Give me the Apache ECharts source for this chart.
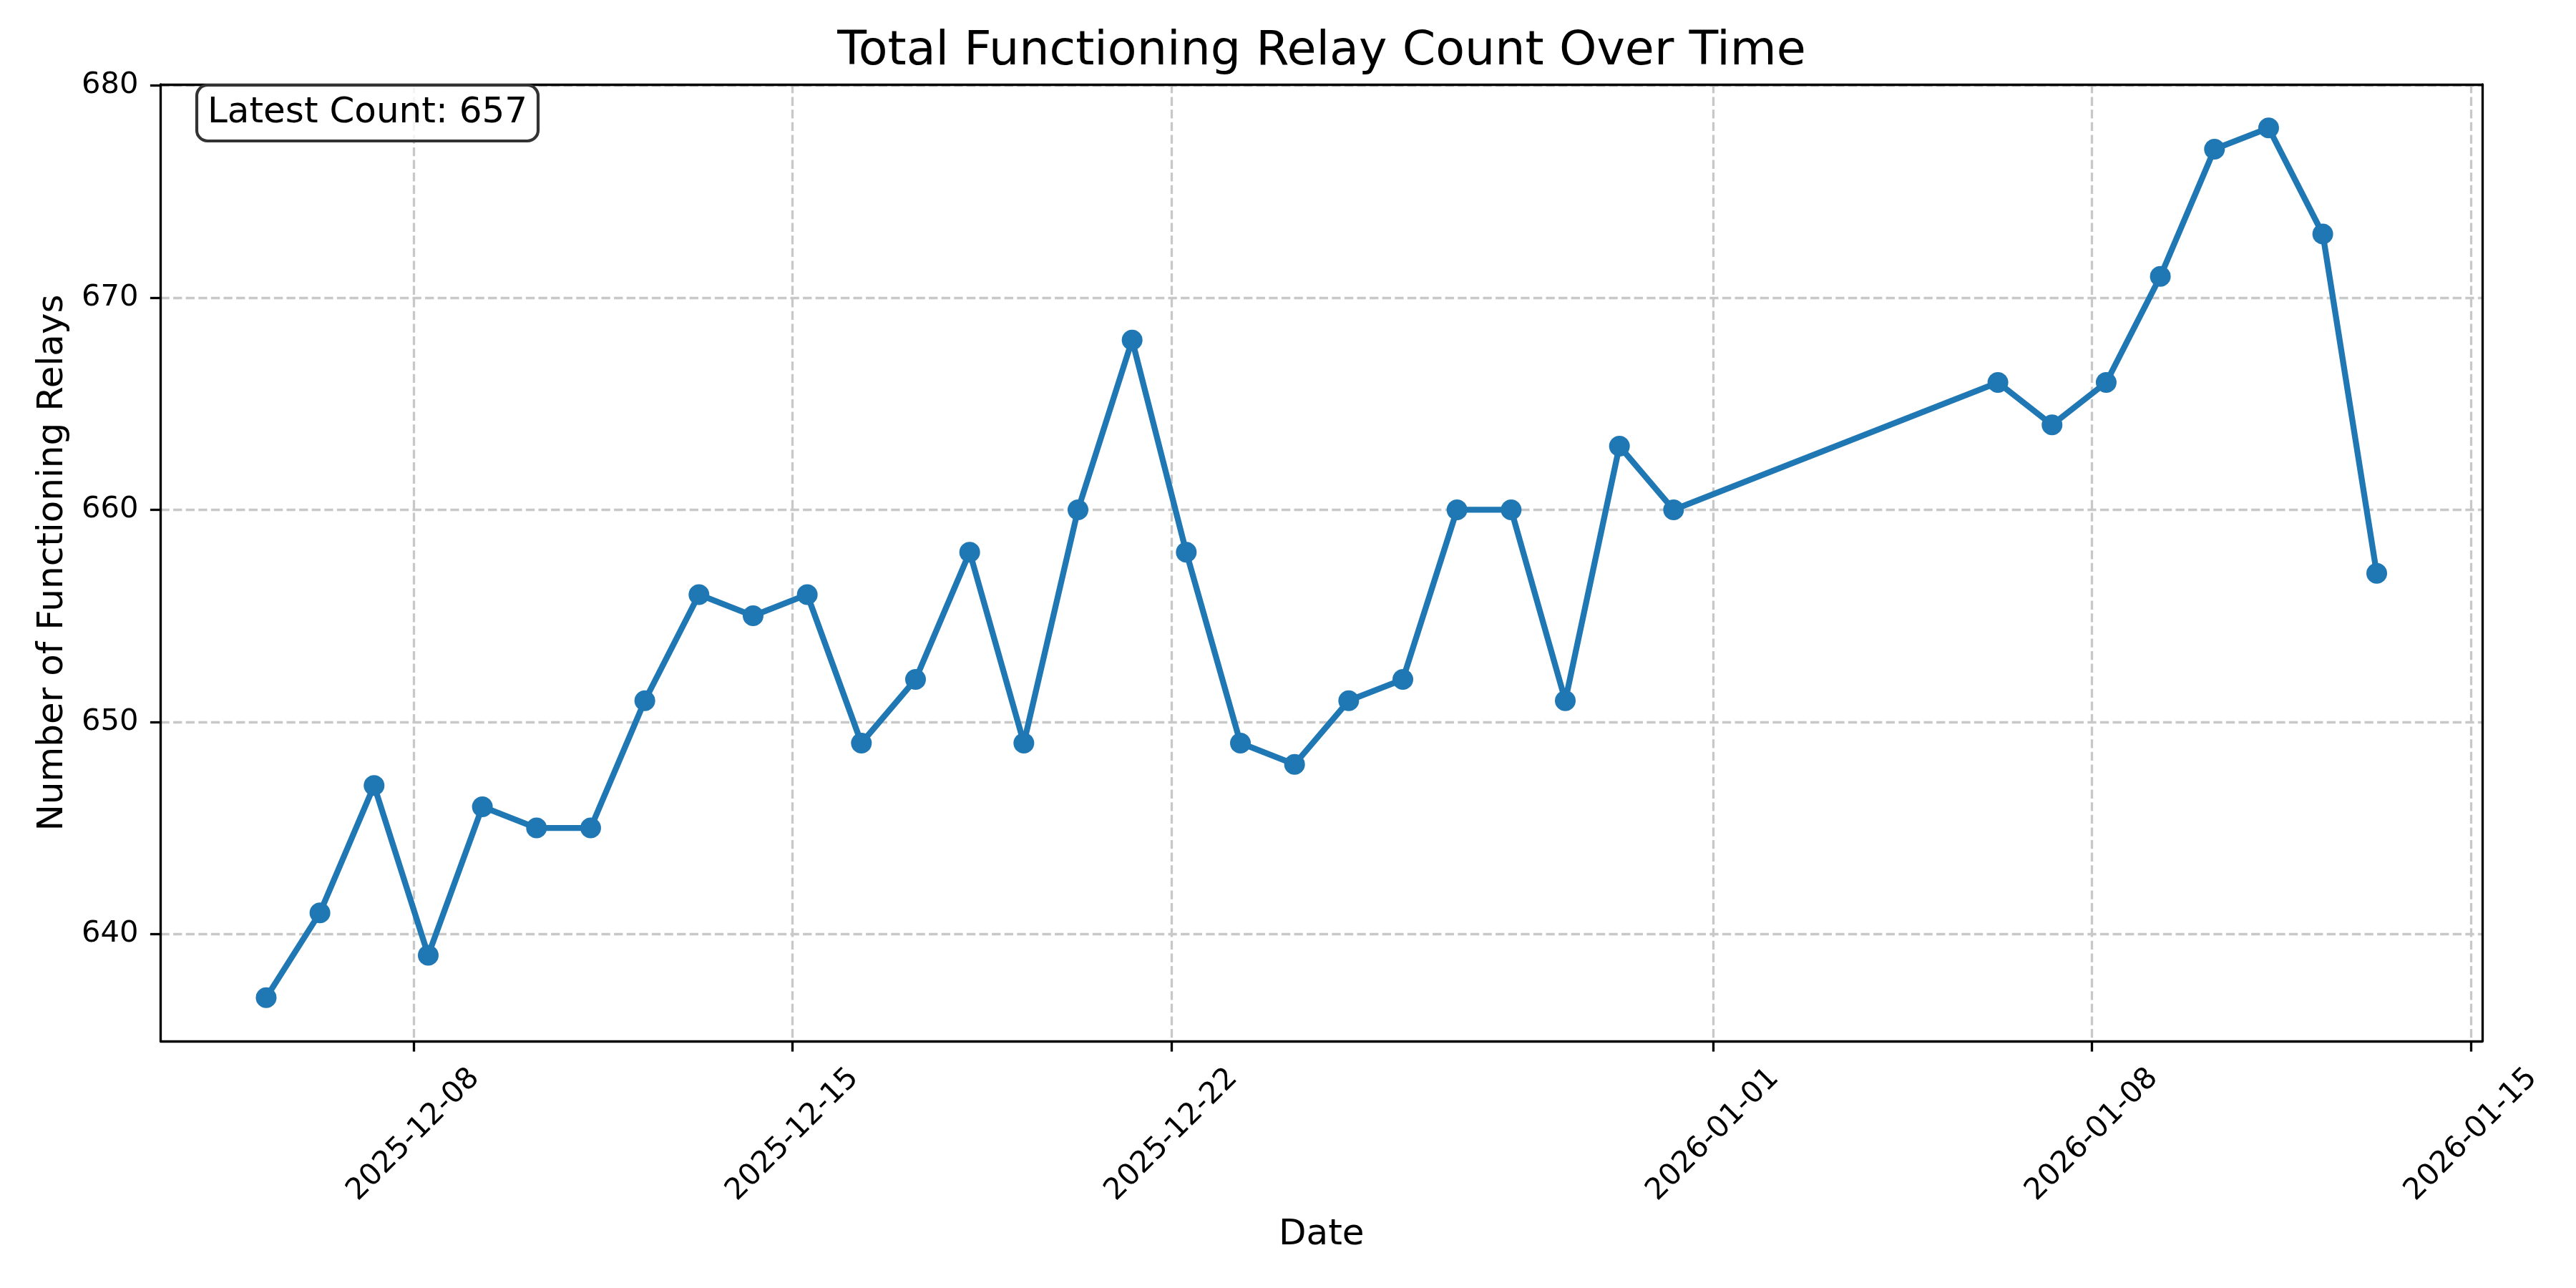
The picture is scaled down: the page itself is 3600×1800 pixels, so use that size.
<!DOCTYPE html>
<html>
<head>
<meta charset="utf-8">
<script src="https://cdn.jsdelivr.net/npm/echarts@6/dist/echarts.min.js"></script>
<style>
  html, body { margin: 0; padding: 0; background: #fff; }
  #main { width: 3600px; height: 1800px; }
</style>
</head>
<body>
<div id="main"></div>
<script>
// daily snapshots
const dates = [
  '2025-12-05 06:40', '2025-12-06 06:30', '2025-12-07 06:30', '2025-12-08 06:30',
  '2025-12-09 06:30', '2025-12-10 06:30', '2025-12-11 06:30', '2025-12-12 06:30',
  '2025-12-13 06:30', '2025-12-14 06:30', '2025-12-15 06:30', '2025-12-16 06:30',
  '2025-12-17 06:30', '2025-12-18 06:30', '2025-12-19 06:30', '2025-12-20 06:30',
  '2025-12-21 06:30', '2025-12-22 06:30', '2025-12-23 06:30', '2025-12-24 06:30',
  '2025-12-25 06:30', '2025-12-26 06:30', '2025-12-27 06:30', '2025-12-28 06:30',
  '2025-12-29 06:30', '2025-12-30 06:30', '2025-12-31 06:30',
  '2026-01-06 06:15', '2026-01-07 06:15', '2026-01-08 06:15', '2026-01-09 06:15',
  '2026-01-10 06:15', '2026-01-11 06:15', '2026-01-12 06:15', '2026-01-13 06:10'
];
const counts = [
  637, 641, 647, 639, 646, 645, 645, 651, 656, 655, 656, 649, 652, 658,
  649, 660, 668, 658, 649, 648, 651, 652, 660, 660, 651, 663, 660,
  666, 664, 666, 671, 677, 678, 673, 657
];
const xTickDates = ['2025-12-08', '2025-12-15', '2025-12-22', '2026-01-01', '2026-01-08', '2026-01-15'];
const yTicks = [640, 650, 660, 670, 680];

const FONT = 'DejaVu Sans';
const BLUE = '#1f77b4';

function toTime(s) {
  const parts = s.split(' ');
  const d = parts[0].split('-').map(Number);
  const t = (parts[1] || '00:00').split(':').map(Number);
  return new Date(d[0], d[1] - 1, d[2], t[0], t[1]).getTime();
}
function pad2(n) { return (n < 10 ? '0' : '') + n; }
function fmtDate(v) {
  const d = new Date(v);
  return d.getFullYear() + '-' + pad2(d.getMonth() + 1) + '-' + pad2(d.getDate());
}

const times = dates.map(toTime);
const points = times.map((t, i) => [t, counts[i]]);

// matplotlib-style 5% margins
const tMin = Math.min(...times), tMax = Math.max(...times);
const cMin = Math.min(...counts), cMax = Math.max(...counts);
const xPad = (tMax - tMin) * 0.05, yPad = (cMax - cMin) * 0.05;

const xTicks = xTickDates.map(toTime);
const latest = counts[counts.length - 1];

const gridDash = {
  show: true,
  lineStyle: { color: '#c8c8c8', width: 3.3, type: [12.3, 5.3] }
};
const spine = { show: true, lineStyle: { color: '#000', width: 3.3 } };

// top/right spines drawn as bare axes so they sit over the grid lines
function borderAxis(position, min, max) {
  return {
    type: 'value', position: position, min: min, max: max, z: 1,
    axisLine: spine, axisTick: { show: false }, axisLabel: { show: false }, splitLine: { show: false }
  };
}

const option = {
  animation: false,
  backgroundColor: '#fff',
  title: [
    {
      text: 'Total Functioning Relay Count Over Time',
      left: 1847, top: 39, textAlign: 'center', padding: 0,
      textStyle: { fontFamily: FONT, fontSize: 66.7, fontWeight: 'normal', color: '#000' }
    },
    {
      text: 'Latest Count: ' + latest,
      left: 275, top: 119, padding: [14, 15],
      backgroundColor: 'rgba(255,255,255,0.8)',
      borderColor: '#333', borderWidth: 4.2, borderRadius: 15,
      textStyle: { fontFamily: FONT, fontSize: 50, lineHeight: 50, fontWeight: 'normal', color: '#000' }
    }
  ],
  grid: {
    left: 224.5, right: 131, top: 118, bottom: 345,
    containLabel: false, outerBoundsMode: 'none'
  },
  xAxis: [
    {
      type: 'value',
      min: tMin - xPad, max: tMax + xPad,
      name: 'Date', nameLocation: 'middle', nameGap: 246,
      nameTextStyle: { fontFamily: FONT, fontSize: 50, color: '#000' },
      axisLine: spine,
      axisTick: { show: true, length: 14.6, lineStyle: { color: '#000', width: 3.3 }, customValues: xTicks },
      axisLabel: {
        customValues: xTicks, rotate: 45, align: 'center', verticalAlign: 'middle', margin: 131,
        fontFamily: FONT, fontSize: 41.7, color: '#000',
        formatter: v => fmtDate(v)
      },
      splitLine: gridDash
    },
    borderAxis('top', tMin - xPad, tMax + xPad)
  ],
  yAxis: [
    {
      type: 'value',
      min: cMin - yPad, max: cMax + yPad,
      name: 'Number of Functioning Relays', nameLocation: 'middle', nameGap: 125, nameRotate: 90,
      nameTextStyle: { fontFamily: FONT, fontSize: 50, color: '#000' },
      axisLine: spine,
      axisTick: { show: true, length: 14.6, lineStyle: { color: '#000', width: 3.3 }, customValues: yTicks },
      axisLabel: {
        customValues: yTicks, margin: 31,
        fontFamily: FONT, fontSize: 41.7, color: '#000'
      },
      splitLine: gridDash
    },
    borderAxis('right', cMin - yPad, cMax + yPad)
  ],
  series: [
    {
      type: 'line',
      data: points,
      symbol: 'circle', symbolSize: 29,
      lineStyle: { color: BLUE, width: 8.3 },
      itemStyle: { color: BLUE },
      emphasis: { disabled: true }
    }
  ]
};

const chart = echarts.init(document.getElementById('main'));
chart.setOption(option);
</script>
</body>
</html>
